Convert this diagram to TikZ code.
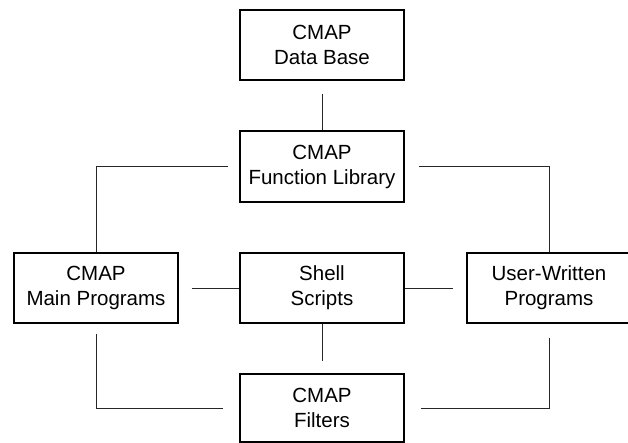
\documentclass[tikz,border=0pt]{standalone}
\usepackage{fontspec}
\setmainfont{Liberation Sans}
\usepackage{tikz}

\begin{document}
\begin{tikzpicture}[
    x=1pt,
    y=1pt,
    every node/.style={font=\fontsize{20.5}{25}\selectfont},
    unit/.style={draw=black, line width=1.4pt, minimum width=164pt, minimum height=70pt, align=center, inner sep=0pt},
    link/.style={draw=black!85, line width=0.7pt}
  ]
    \useasboundingbox (0,0) rectangle (628,443);
    \clip (0,0) rectangle (628,443);

    % the library in the middle, with the data base above it
    \node[unit] (base) at (322,398) {CMAP\\Data Base};
    \node[unit, minimum height=71pt] (library) at (322,276.5) {CMAP\\Function Library};

    % the three program kinds
    \node[unit] (main) at (96,155) {CMAP\\Main Programs};
    \node[unit] (shell) at (322,155) {Shell\\Scripts};
    \node[unit] (user) at (549,155) {User-Written\\Programs};

    \node[unit, minimum height=68pt] (filters) at (322,35) {CMAP\\Filters};

    \draw[link, shorten <=13pt] (base) -- (library);
    \draw[link, shorten <=11pt] (library.west) -| (main.north);
    \draw[link, shorten <=14pt] (library.east) -| (user.north);

    \draw[link, shorten <=13pt] (main) -- (shell);
    \draw[link, shorten >=13pt] (shell) -- (user);

    \draw[link, shorten <=10pt, shorten >=16pt] (main.south) |- (filters.west);
    \draw[link, shorten >=12pt] (shell) -- (filters);
    \draw[link, shorten <=14pt, shorten >=16pt] (user.south) |- (filters.east);
  \end{tikzpicture}
\end{document}
